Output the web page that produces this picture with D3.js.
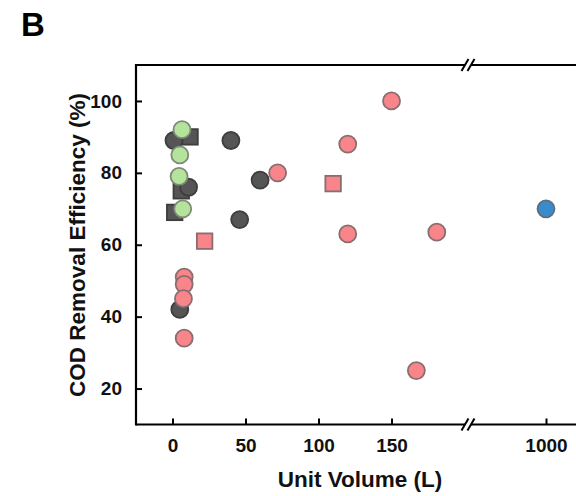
<!DOCTYPE html>
<html><head><meta charset="utf-8">
<script src="https://cdn.jsdelivr.net/npm/d3@7"></script>
<style>html,body{margin:0;padding:0;background:#fff;}svg{display:block;font-family:"Liberation Sans",Arial,sans-serif;}</style>
</head><body>
<svg id="chart" width="576" height="496"></svg>
<script>
// ---- data ----
const darkCircleX = [1, 40, 60, 11, 46, 5];
const darkCircleY = [89, 89, 78, 76, 67, 42];
const darkSquareX = [12, 6, 1.5];
const darkSquareY = [90, 75, 69];
const greenCircleX = [6.5, 5, 4.5, 7];
const greenCircleY = [92, 85, 79, 70];
const redCircleX = [72, 8, 8, 7.5, 8, 150, 120, 120, 181, 167];
const redCircleY = [80, 51, 49, 45, 34, 100, 88, 63, 63.5, 25];
const redSquareX = [22, 110];
const redSquareY = [61, 77];
const blueCircleX = [1000];
const blueCircleY = [70];
const xTicksLow = [0, 50, 100, 150];
const xTicksHigh = [1000];
const yTicks = [20, 40, 60, 80, 100];

const svg = d3.select("#chart");
const L = 136, T = 65, B = 424.5, BRK = 468;
const xLow = d3.scaleLinear().domain([-25, 201]).range([L, 466]);
const xHigh = d3.scaleLinear().domain([900, 1100]).range([470, 622]);
const xs = v => v > 500 ? xHigh(v) : xLow(v);
const y = d3.scaleLinear().domain([10, 110]).range([B, T]);

// title
svg.append("text").attr("x", 21).attr("y", 36).attr("font-size", 33).attr("font-weight", "bold").text("B");

// frame
const g = svg.append("g");
g.append("line").attr("x1", L).attr("x2", 600).attr("y1", T).attr("y2", T).attr("stroke", "#000").attr("stroke-width", 2.2);
g.append("line").attr("x1", L).attr("x2", 600).attr("y1", B).attr("y2", B).attr("stroke", "#000").attr("stroke-width", 2.2);
g.append("line").attr("x1", L).attr("x2", L).attr("y1", T - 1).attr("y2", B + 1).attr("stroke", "#000").attr("stroke-width", 2.2);

// y axis ticks inward
const yAxis = d3.axisLeft(y).tickValues(yTicks).tickSizeInner(-6).tickSizeOuter(0).tickPadding(14);
const ya = svg.append("g").attr("transform", `translate(${L},0)`).call(yAxis);
ya.select(".domain").remove();
ya.selectAll("line").attr("stroke-width", 2);
ya.selectAll("text").attr("font-size", 19).attr("font-weight", "bold").attr("font-family", "Liberation Sans, Arial, sans-serif").attr("fill", "#111");

// x axes
function xAxisG(scale, ticks) {
  const ax = d3.axisBottom(scale).tickValues(ticks).tickSizeInner(-6).tickSizeOuter(0).tickPadding(14).tickFormat(d3.format("d"));
  const a = svg.append("g").attr("transform", `translate(0,${B})`).call(ax);
  a.select(".domain").remove();
  a.selectAll("line").attr("stroke-width", 2);
  a.selectAll("text").attr("font-size", 19).attr("font-weight", "bold").attr("font-family", "Liberation Sans, Arial, sans-serif").attr("fill", "#111");
}
xAxisG(xLow, xTicksLow);
xAxisG(xHigh, xTicksHigh);

// break marks
[T, B].forEach(yy => {
  svg.append("rect").attr("x", BRK - 3).attr("y", yy - 3).attr("width", 6).attr("height", 6).attr("fill", "#fff");
  [-3, 3].forEach(dx => {
    svg.append("line").attr("x1", BRK + dx - 3.5).attr("y1", yy + 6).attr("x2", BRK + dx + 3.5).attr("y2", yy - 6)
      .attr("stroke", "#000").attr("stroke-width", 2);
  });
});

// axis labels
svg.append("text").attr("x", 360).attr("y", 487).attr("text-anchor", "middle").attr("font-size", 22.5).attr("font-weight", "bold").attr("fill", "#111").text("Unit Volume (L)");
svg.append("text").attr("transform", "translate(85,245) rotate(-90)").attr("text-anchor", "middle").attr("font-size", 22.5).attr("font-weight", "bold").attr("fill", "#111").text("COD Removal Efficiency (%)");

// points
const R = 8.5, S = 15.5;
function circles(xa, ya_, fill, stroke) {
  svg.append("g").selectAll("circle").data(d3.range(xa.length)).join("circle")
    .attr("cx", i => xs(xa[i])).attr("cy", i => y(ya_[i])).attr("r", R)
    .attr("fill", fill).attr("stroke", stroke).attr("stroke-width", 1.8);
}
function squares(xa, ya_, fill, stroke) {
  svg.append("g").selectAll("rect").data(d3.range(xa.length)).join("rect")
    .attr("x", i => xs(xa[i]) - S / 2).attr("y", i => y(ya_[i]) - S / 2).attr("width", S).attr("height", S)
    .attr("fill", fill).attr("stroke", stroke).attr("stroke-width", 1.8);
}
squares(darkSquareX, darkSquareY, "#555555", "#3e3e3e");
circles(darkCircleX, darkCircleY, "#555555", "#3e3e3e");
circles(greenCircleX, greenCircleY, "#b4e39b", "#7d8a78");
squares(redSquareX, redSquareY, "#f7858a", "#8a6d6e");
circles(redCircleX, redCircleY, "#f7858a", "#8a6d6e");
circles(blueCircleX, blueCircleY, "#3a8bcb", "#5e6f7c");
</script>
</body></html>
